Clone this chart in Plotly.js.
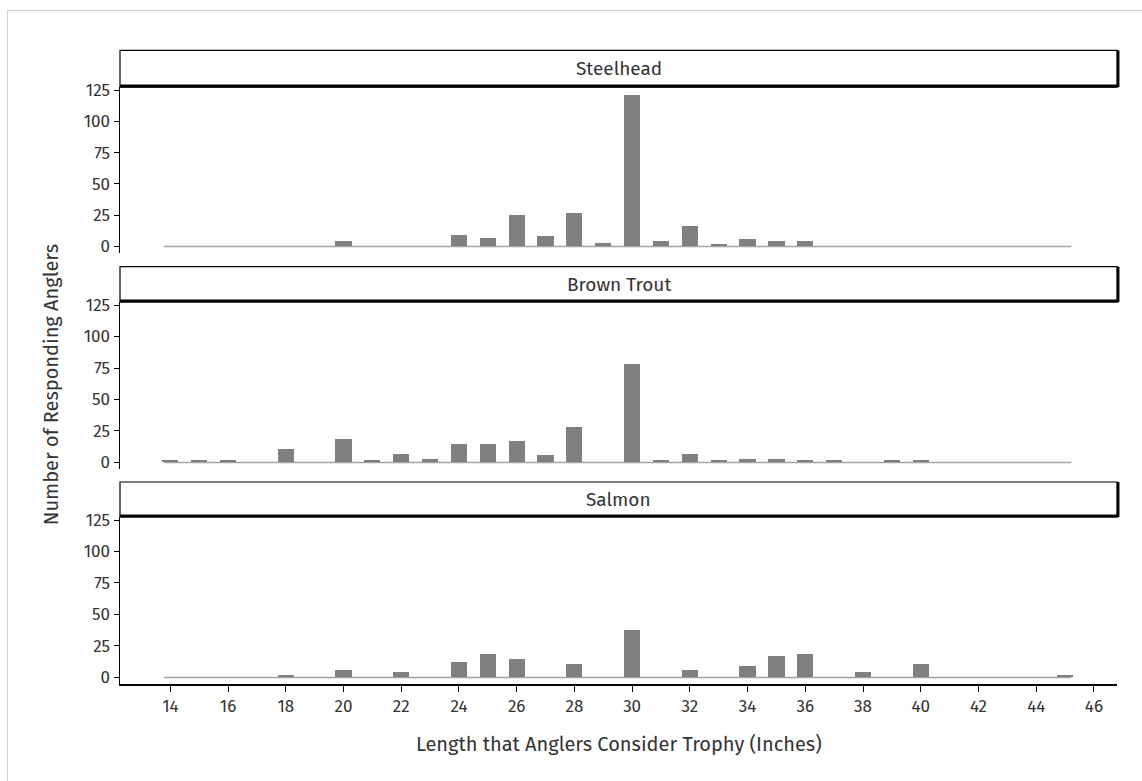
<!DOCTYPE html>
<html>
<head>
<meta charset="utf-8">
<script src="https://cdn.plot.ly/plotly-3.0.1.min.js"></script>
<style>
  html, body { margin: 0; padding: 0; background: #ffffff; }
  #frame { position: absolute; left: 7px; top: 10px; width: 1200px; height: 900px;
           border-left: 1px solid #d2d2d2; border-top: 1px solid #d2d2d2; }
  #chart { position: absolute; left: 0; top: 0; width: 1142px; height: 781px; }
</style>
</head>
<body>
<div id="frame"></div>
<div id="chart"></div>
<script>
// ---- Data ----
const panelTitles = ["Steelhead", "Brown Trout", "Salmon"];

const steelheadLengths = [20, 24, 25, 26, 27, 28, 29, 30, 31, 32, 33, 34, 35, 36];
const steelheadCounts  = [4, 9, 7, 25, 8, 27, 3, 121, 4, 16, 2, 6, 4, 4];

const brownTroutLengths = [14, 15, 16, 18, 20, 21, 22, 23, 24, 25, 26, 27, 28, 30, 31, 32, 33, 34, 35, 36, 37, 39, 40];
const brownTroutCounts  = [2, 2, 2, 11, 19, 2, 7, 3, 15, 15, 17, 6, 28, 78, 2, 7, 2, 3, 3, 2, 2, 2, 2];

const salmonLengths = [18, 20, 22, 24, 25, 26, 28, 30, 32, 34, 35, 36, 38, 40, 45];
const salmonCounts  = [2, 6, 4, 12, 19, 15, 11, 38, 6, 9, 17, 19, 4, 11, 2];

const xTickVals = [14, 16, 18, 20, 22, 24, 26, 28, 30, 32, 34, 36, 38, 40, 42, 44, 46];
const yTickVals = [0, 25, 50, 75, 100, 125];

const xAxisTitle = "Length that Anglers Consider Trophy (Inches)";
const yAxisTitle = "Number of Responding Anglers";

// ---- Build ----
const FONT = "'Fira Sans', Lato, 'Noto Sans', sans-serif";
const TXT = "#333333";
const BAR = "#808080";
const barWidth = 0.56;

const lengthsList = [steelheadLengths, brownTroutLengths, salmonLengths];
const countsList = [steelheadCounts, brownTroutCounts, salmonCounts];
const yAxisIds = ["y", "y2", "y3"];

// panel domains (fractions of plot height)
const domains = [[0.6798, 0.9416], [0.3391, 0.6025], [0.0, 0.2634]];
const stripTops = [0.9995, 0.6582, 0.3186];

const traces = lengthsList.map((xs, i) => ({
  type: "bar",
  x: xs,
  y: countsList[i],
  xaxis: "x",
  yaxis: yAxisIds[i],
  width: barWidth,
  marker: { color: BAR, line: { width: 0 } },
  hoverinfo: "x+y",
  showlegend: false
}));

const allLengths = [].concat(...lengthsList);
const minLen = Math.min(...allLengths);
const maxLen = Math.max(...allLengths);

const shapes = [];
const annotations = [];

domains.forEach((d, i) => {
  const yref = yAxisIds[i];
  // baseline under bars
  shapes.push({
    type: "line", layer: "below", xref: "x", yref: yref,
    x0: minLen - 0.22, x1: maxLen + 0.22, y0: 0, y1: 0,
    line: { color: "#a3a3a3", width: 1.6 }
  });
  // strip box
  shapes.push({
    type: "rect", xref: "paper", yref: "paper",
    x0: 0, x1: 1, y0: d[1], y1: stripTops[i],
    fillcolor: "#ffffff", line: { color: "#000000", width: 1.2 }
  });
  shapes.push({
    type: "line", xref: "paper", yref: "paper",
    x0: 0, x1: 1.0015, y0: d[1] + 0.0015, y1: d[1] + 0.0015,
    line: { color: "#000000", width: 3 }
  });
  shapes.push({
    type: "line", xref: "paper", yref: "paper",
    x0: 1.0012, x1: 1.0012, y0: d[1], y1: stripTops[i],
    line: { color: "#000000", width: 2.5 }
  });
  annotations.push({
    xref: "paper", yref: "paper",
    x: 0.5, y: (d[1] + stripTops[i]) / 2,
    xanchor: "center", yanchor: "middle",
    text: panelTitles[i], showarrow: false,
    font: { family: FONT, size: 19, color: TXT }
  });
});

annotations.push({
  xref: "paper", yref: "paper", x: 0.5, y: -0.0946,
  xanchor: "center", yanchor: "middle", showarrow: false,
  text: xAxisTitle, font: { family: FONT, size: 20, color: TXT }
});
annotations.push({
  xref: "paper", yref: "paper", x: -0.069, y: 0.4716,
  xanchor: "center", yanchor: "middle", showarrow: false, textangle: -90,
  text: yAxisTitle, font: { family: FONT, size: 20, color: TXT }
});

function yAxis(i) {
  return {
    domain: domains[i],
    anchor: "x",
    range: [-5.2, 127.4],
    tickvals: yTickVals,
    ticks: "outside", ticklen: 5, tickwidth: 1, tickcolor: "#000000",
    showline: true, linecolor: "#000000", linewidth: 1.5,
    showgrid: false, zeroline: false,
    tickfont: { family: FONT, size: 17, color: TXT },
    fixedrange: true
  };
}

const layout = {
  width: 1142, height: 781,
  margin: { l: 120, r: 25, t: 50, b: 97 },
  paper_bgcolor: "rgba(0,0,0,0)",
  plot_bgcolor: "rgba(0,0,0,0)",
  bargap: 0,
  xaxis: {
    anchor: "y3",
    range: [12.256, 46.8],
    tickvals: xTickVals,
    ticks: "outside", ticklen: 6, tickwidth: 1, tickcolor: "#000000",
    showline: true, linecolor: "#000000", linewidth: 1.5,
    showgrid: false, zeroline: false,
    tickfont: { family: FONT, size: 17, color: TXT },
    fixedrange: true
  },
  yaxis: yAxis(0),
  yaxis2: yAxis(1),
  yaxis3: yAxis(2),
  shapes: shapes,
  annotations: annotations,
  showlegend: false
};

Plotly.newPlot("chart", traces, layout, { displayModeBar: false, staticPlot: true });
</script>
</body>
</html>
